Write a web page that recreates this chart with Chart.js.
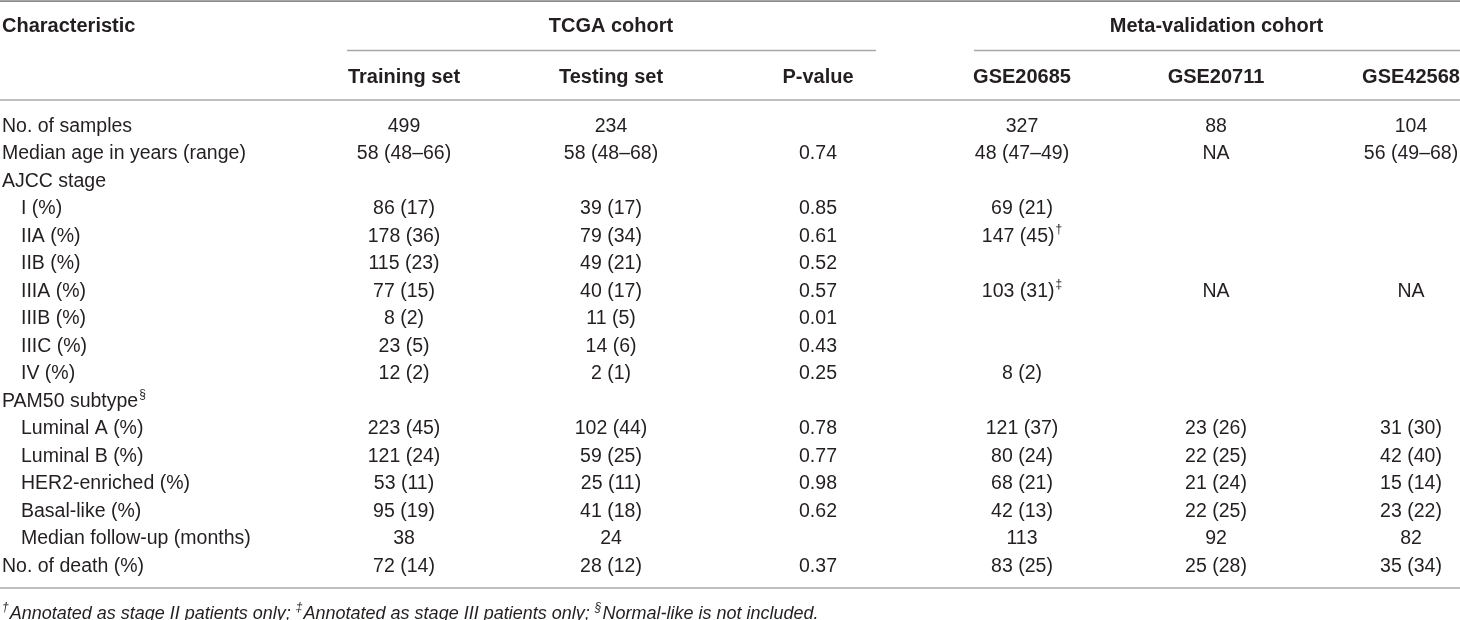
<!DOCTYPE html>
<html><head><meta charset="utf-8">
<script src="https://cdn.jsdelivr.net/npm/chart.js@4"></script>
<style>html,body{margin:0;padding:0;background:#fff}canvas{display:block}</style>
</head><body>
<canvas id="c" width="1460" height="620"></canvas>
<script>
// ---------- data ----------
const characteristics = ["No. of samples","Median age in years (range)","AJCC stage","I (%)","IIA (%)","IIB (%)","IIIA (%)","IIIB (%)","IIIC (%)","IV (%)","PAM50 subtype^§","Luminal A (%)","Luminal B (%)","HER2-enriched (%)","Basal-like (%)","Median follow-up (months)","No. of death (%)"];
const indentRows = [3,4,5,6,7,8,9,11,12,13,14,15];
const cornerHeader = "Characteristic";
const groupHeaders = ["TCGA cohort","Meta-validation cohort"];
const columnHeaders = ["Training set","Testing set","P-value","GSE20685","GSE20711","GSE42568"];
const trainingSet = ["499","58 (48–66)","","86 (17)","178 (36)","115 (23)","77 (15)","8 (2)","23 (5)","12 (2)","","223 (45)","121 (24)","53 (11)","95 (19)","38","72 (14)"];
const testingSet  = ["234","58 (48–68)","","39 (17)","79 (34)","49 (21)","40 (17)","11 (5)","14 (6)","2 (1)","","102 (44)","59 (25)","25 (11)","41 (18)","24","28 (12)"];
const pValue      = ["","0.74","","0.85","0.61","0.52","0.57","0.01","0.43","0.25","","0.78","0.77","0.98","0.62","","0.37"];
const gse20685    = ["327","48 (47–49)","","69 (21)","147 (45)^†","","103 (31)^‡","","","8 (2)","","121 (37)","80 (24)","68 (21)","42 (13)","113","83 (25)"];
const gse20711    = ["88","NA","","","","","NA","","","","","23 (26)","22 (25)","21 (24)","22 (25)","92","25 (28)"];
const gse42568    = ["104","56 (49–68)","","","","","NA","","","","","31 (30)","42 (40)","15 (14)","23 (22)","82","35 (34)"];
const footnoteParts = [["†","Annotated as stage II patients only; "],["‡","Annotated as stage III patients only; "],["§","Normal-like is not included."]];

// ---------- layout ----------
const columns = [trainingSet, testingSet, pValue, gse20685, gse20711, gse42568];
const LAYOUT = {
  colX: [404, 611, 818, 1022, 1216, 1411],
  labelX: 2, indentX: 21,
  groupSpans: [[347, 876], [974, 1460]],
  groupCols: [[0,2],[3,5]],
  headerRow: -3.62, subRow: -1.8,
  topLine: -4.56, groupLine: -2.764, subLine: -0.964, bottomLine: 16.78, footRow: 17.72
};
const FONT = '"Liberation Sans", Arial, Helvetica, sans-serif';
const TEXT = '#231f20';
const BODY_SIZE = 19.5, HEAD_SIZE = 20, FOOT_SIZE = 18;

const datasets = [];
datasets.push({
  label: 'labels',
  data: characteristics.map((t, r) => ({x: indentRows.includes(r) ? LAYOUT.indentX : LAYOUT.labelX, y: r, t})),
  align: 'left'
});
columns.forEach((col, c) => {
  datasets.push({
    label: columnHeaders[c],
    data: col.map((t, r) => ({x: LAYOUT.colX[c], y: r, t})).filter(d => d.t !== ''),
    align: 'center'
  });
});
datasets.forEach(d => { d.pointRadius = 0; d.showLine = false; d.pointHoverRadius = 0; });

function drawRich(ctx, text, x, y, align, size, weight, style, supSize) {
  const parts = text.split('^');
  const main = parts[0], sup = parts[1] || '';
  ctx.font = `${style} ${weight} ${size}px ${FONT}`;
  const wMain = ctx.measureText(main).width;
  ctx.font = `${style} ${weight} ${supSize}px ${FONT}`;
  const wSup = sup ? ctx.measureText(sup).width + 1 : 0;
  let x0 = align === 'center' ? x - (wMain + wSup) / 2 : x;
  ctx.textAlign = 'left';
  ctx.textBaseline = 'middle';
  ctx.font = `${style} ${weight} ${size}px ${FONT}`;
  ctx.fillText(main, x0, y);
  if (sup) {
    ctx.font = `${style} ${weight} ${supSize}px ${FONT}`;
    ctx.fillText(sup, x0 + wMain + 1, y - size * 0.35);
  }
}

const tablePlugin = {
  id: 'tablePlugin',
  afterDatasetsDraw(chart) {
    const ctx = chart.ctx;
    const xs = chart.scales.x, ys = chart.scales.y;
    const W = chart.width;
    ctx.save();
    const hline = (row, x1, x2, color, w) => {
      const y = ys.getPixelForValue(row);
      ctx.strokeStyle = color; ctx.lineWidth = w;
      ctx.beginPath(); ctx.moveTo(x1, y); ctx.lineTo(x2, y); ctx.stroke();
    };
    hline(LAYOUT.topLine, 0, W, '#8a8a8a', 1.6);
    LAYOUT.groupSpans.forEach(s => hline(LAYOUT.groupLine, xs.getPixelForValue(s[0]), xs.getPixelForValue(s[1]), '#a8a8a8', 1.4));
    hline(LAYOUT.subLine, 0, W, '#a8a8a8', 1.4);
    hline(LAYOUT.bottomLine, 0, W, '#a8a8a8', 1.4);

    ctx.fillStyle = TEXT;
    drawRich(ctx, cornerHeader, xs.getPixelForValue(LAYOUT.labelX), ys.getPixelForValue(LAYOUT.headerRow), 'left', HEAD_SIZE, 'bold', 'normal', 12);
    groupHeaders.forEach((g, i) => {
      const cx = (LAYOUT.colX[LAYOUT.groupCols[i][0]] + LAYOUT.colX[LAYOUT.groupCols[i][1]]) / 2;
      drawRich(ctx, g, xs.getPixelForValue(cx), ys.getPixelForValue(LAYOUT.headerRow), 'center', HEAD_SIZE, 'bold', 'normal', 12);
    });
    columnHeaders.forEach((h, c) => {
      drawRich(ctx, h, xs.getPixelForValue(LAYOUT.colX[c]), ys.getPixelForValue(LAYOUT.subRow), 'center', HEAD_SIZE, 'bold', 'normal', 12);
    });
    chart.data.datasets.forEach((ds, di) => {
      const meta = chart.getDatasetMeta(di);
      meta.data.forEach((el, i) => {
        drawRich(ctx, ds.data[i].t, el.x, el.y, ds.align, BODY_SIZE, 'normal', 'normal', 12);
      });
    });
    let fx = xs.getPixelForValue(LAYOUT.labelX);
    const fy = ys.getPixelForValue(LAYOUT.footRow);
    ctx.textBaseline = 'middle'; ctx.textAlign = 'left';
    footnoteParts.forEach(([s, t]) => {
      ctx.font = `italic normal 12px ${FONT}`;
      ctx.fillText(s, fx, fy - 6);
      fx += ctx.measureText(s).width + 1;
      ctx.font = `italic normal ${FOOT_SIZE}px ${FONT}`;
      ctx.fillText(t, fx, fy);
      fx += ctx.measureText(t).width;
    });
    ctx.restore();
  }
};

new Chart(document.getElementById('c'), {
  type: 'scatter',
  data: { datasets },
  options: {
    responsive: false, animation: false, devicePixelRatio: 1,
    layout: { padding: 0 },
    plugins: { legend: { display: false }, tooltip: { enabled: false } },
    events: [],
    scales: {
      x: { type: 'linear', min: 0, max: 1460, display: false },
      y: { type: 'linear', min: -4.6, max: 17.945, reverse: true, display: false }
    }
  },
  plugins: [tablePlugin]
});
</script>
</body></html>
